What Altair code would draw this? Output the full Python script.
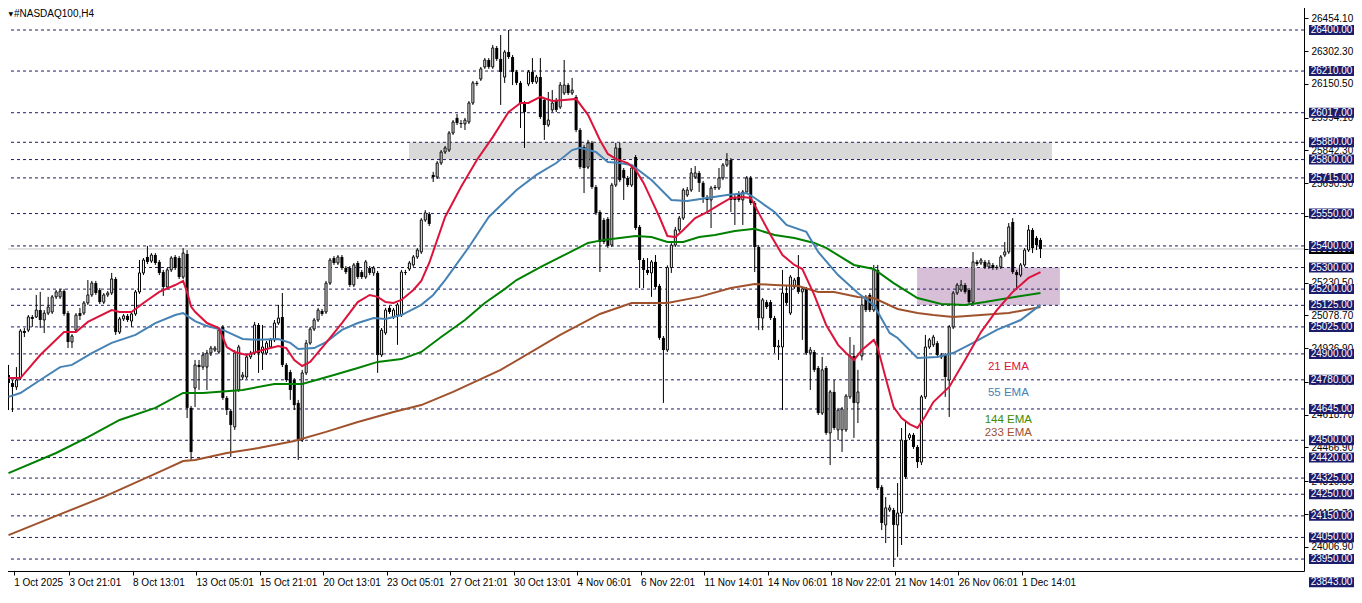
import json
import altair as alt
import pandas as pd

# ---------------- data ----------------
TITLE = "#NASDAQ100,H4"

OPEN = [24802,24765,24747,24788,25006,25010,25071,25071,25103,25057,
        25089,25094,25164,25164,25191,25089,24955,25010,25089,25089,
        25136,25173,25228,25196,25140,25173,25182,25247,25001,25062,
        25076,25052,25085,25187,25275,25349,25330,25358,25326,25279,
        25210,25289,25349,25344,25256,25363,24650,
        24742,24849,24839,24839,24904,24918,24909,25025,24696,24636,
        24562,24733,24793,24793,24886,24904,25034,24904,24904,24932,
        24965,25043,25071,24849,24816,24779,24673,24501,24812,24950,
        25015,25057,25099,25094,25228,25344,25321,25349,25298,25298,
        25219,25321,25279,25256,25298,25275,25275,24895,24997,25113,
        25071,25080,25080,25279,25293,25312,25349,25372,25520,25548,
        25729,25719,25784,25835,25844,25923,25993,25969,25965,25974,
        26062,26155,26173,26229,26261,26229,26317,26266,26182,26298,
        26275,26206,26155,26062,26150,26206,26159,26182,26076,25960,
        26030,26076,26043,26108,26145,26108,26090,25937,25858,25765,
        25877,25673,25557,25520,25525,25404,25682,25854,25752,25715,
        25682,25812,25488,25335,25289,25275,25326,25215,24974,24918,
        25300,25404,25474,25529,25636,25659,25719,25738,25692,25627,
        25613,25673,25668,25715,25775,25798,25627,25645,25613,25650,
        25715,25599,25395,25066,25140,25140,25066,24932,24932,25182,
        25089,25210,25256,25187,25201,24904,24909,24835,24626,24835,
        24534,24724,24548,24548,24548,24701,24890,24673,24890,25164,
        25173,25103,25289,24283,24108,24177,24177,24108,24163,24501,
        24511,24525,24469,24399,24701,24932,24942,24950,24886,24895,
        24779,25025,25182,25196,25219,25196,25140,25326,25321,25326,
        25303,25312,25303,25303,25358,25372,25511,25279,25265,25312,
        25381,25474,25437,25428]

HIGH = [24849,24779,24839,25015,25020,25080,25080,25173,25187,25103,
        25164,25173,25196,25201,25201,25099,24992,25089,25113,25145,
        25242,25238,25238,25205,25182,25191,25275,25256,25071,25085,
        25085,25094,25196,25335,25344,25400,25367,25367,25335,25289,
        25298,25353,25358,25353,25390,25381,24659,
        24872,24872,24909,24918,24937,24937,25020,25034,24705,24645,
        24918,24942,24816,24895,24914,25048,25043,25034,24960,24974,
        25057,25127,25182,24858,24826,24788,24687,24826,24965,25025,
        25066,25113,25108,25238,25344,25353,25358,25358,25307,25307,
        25321,25330,25289,25335,25307,25307,25284,25020,25113,25122,
        25113,25136,25289,25289,25330,25358,25390,25529,25566,25557,
        25743,25793,25844,25863,25932,25983,26011,25983,25993,26071,
        26164,26164,26229,26270,26270,26331,26326,26377,26307,26400,
        26284,26215,26164,26071,26215,26270,26192,26270,26085,26113,
        26122,26085,26159,26261,26154,26178,26099,25946,25868,25891,
        25886,25682,25566,25529,25534,25692,25877,25877,25761,25724,
        25770,25821,25497,25344,25344,25335,25358,25224,24983,25310,
        25413,25488,25539,25668,25673,25761,25770,25747,25701,25636,
        25678,25682,25761,25784,25830,25807,25636,25654,25659,25724,
        25724,25608,25404,25159,25150,25150,25076,24965,25289,25219,
        25265,25252,25358,25210,25210,24932,24918,24844,24886,24844,
        24733,24779,24650,24654,24714,24978,24942,24826,25164,25173,
        25182,25312,25312,24293,24237,24201,24187,24302,24557,24594,
        24534,24534,24478,24710,24988,24974,24988,24960,24904,24904,
        25034,25191,25228,25242,25228,25205,25372,25335,25344,25335,
        25335,25321,25312,25358,25418,25506,25529,25289,25321,25390,
        25497,25483,25446,25437]

LOW = [24640,24631,24733,24779,24978,25001,25025,25066,25020,24997,
       25080,25085,25154,25154,25076,24927,24927,25001,25057,25080,
       25127,25164,25173,25131,25131,25164,25173,24988,24992,25052,
       25048,25025,25076,25178,25265,25316,25321,25312,25265,25168,
       25201,25279,25289,25247,25247,24603,24409,
       24654,24733,24826,24733,24890,24909,24900,24687,24617,24423,
       24548,24724,24779,24784,24876,24895,24812,24826,24895,24923,
       24955,25034,24839,24770,24687,24640,24409,24492,24802,24942,
       25006,25048,25076,25085,25219,25312,25312,25289,25270,25210,
       25210,25247,25247,25247,25265,25261,24812,24886,24988,25085,
       25062,24942,25071,25265,25284,25303,25340,25363,25511,25492,
       25696,25710,25775,25826,25835,25914,25960,25946,25937,25965,
       26053,26141,26164,26220,26220,26220,26257,26053,26155,26266,
       26145,26145,25946,25854,26140,26150,26150,25988,25891,25951,
       26020,26020,26034,26099,26099,26099,25927,25756,25645,25756,
       25664,25543,25279,25409,25391,25395,25673,25696,25613,25673,
       25673,25474,25205,25205,25265,25164,25201,24965,24673,24909,
       25275,25395,25465,25520,25627,25650,25710,25650,25599,25557,
       25483,25659,25659,25705,25766,25557,25497,25604,25497,25641,
       25590,25279,25010,25010,25108,25057,24904,24872,24640,25127,
       25080,25201,25178,24965,24895,24733,24816,24617,24617,24525,
       24385,24548,24501,24446,24539,24691,24511,24580,24870,25094,
       25094,25094,24270,24084,24024,24168,23913,23960,24015,24321,
       24501,24460,24372,24385,24691,24923,24932,24886,24876,24701,
       24608,25015,25173,25187,25178,25131,25131,25307,25312,25293,
       25293,25289,25289,25293,25349,25363,25270,25196,25256,25303,
       25372,25367,25381,25344]

CLOSE = [24765,24747,24779,25006,24997,25071,25062,25103,25057,25089,
         25117,25164,25187,25191,25085,24955,24983,25080,25076,25136,
         25173,25228,25182,25140,25173,25182,25247,25001,25062,25076,
         25057,25085,25187,25275,25335,25326,25358,25321,25275,25210,
         25289,25344,25298,25256,25367,24650,24446,
         24849,24839,24895,24904,24927,24927,25010,24696,24640,24571,
         24904,24932,24802,24886,24904,25034,24904,24932,24950,24965,
         25043,25066,24849,24779,24733,24663,24501,24812,24950,25015,
         25057,25103,25085,25228,25335,25321,25349,25298,25279,25219,
         25312,25256,25256,25326,25275,25298,24895,25010,25103,25094,
         25103,25127,25279,25275,25321,25349,25381,25520,25553,25502,
         25719,25784,25835,25854,25923,25974,25969,25965,25983,26062,
         26155,26150,26220,26261,26229,26317,26266,26206,26298,26275,
         26206,26155,26062,26020,26206,26159,26182,25997,25960,25983,
         26062,26030,26145,26145,26108,26122,25937,25765,25761,25877,
         25673,25553,25418,25418,25400,25682,25854,25705,25715,25682,
         25761,25483,25335,25289,25275,25326,25210,24974,24918,25300,
         25404,25474,25529,25659,25659,25738,25738,25692,25627,25613,
         25668,25668,25715,25775,25798,25613,25613,25613,25650,25715,
         25599,25395,25066,25150,25117,25066,24932,24937,25182,25136,
         25256,25242,25187,25201,24904,24918,24826,24626,24826,24534,
         24724,24557,24640,24645,24705,24890,24673,24724,25127,25103,
         25103,25289,24279,24117,24187,24187,24108,24163,24501,24330,
         24525,24469,24399,24701,24932,24965,24978,24895,24895,24793,
         25025,25182,25219,25219,25187,25140,25326,25316,25335,25303,
         25321,25298,25298,25349,25372,25488,25279,25265,25312,25381,
         25474,25390,25404,25386]

EMA21_BAR = [0,3,8,14,17,20,26,28,31,34,38,42,44,45,46,47,50,53,55,57,60,
             64,68,70,72,74,76,80,84,88,91,93,95,97,99,102,104,106,110,114,118,
             122,126,129,131,134,137,140,143,146,149,151,153,156,158,160,162,164,
             166,168,170,173,176,179,182,185,187,189,192,195,198,200,203,206,209,
             211,213,215,218,219,221,223,225,227,229,231,233,237,241,245,249,253,257,260]
EMA21_VAL = [24788,24788,24895,25001,25001,25048,25103,25094,25094,25136,25187,25219,25238,25186,25119,25095,
             25043,25020,24932,24909,24895,24918,24937,24927,24872,24844,24863,24951,25043,25140,25173,
             25164,25140,25136,25150,25196,25238,25321,25534,25673,25798,25904,26020,26062,26062,26090,
             26071,26076,26081,26007,25891,25826,25803,25784,25752,25692,25613,25534,25446,25441,25474,
             25529,25557,25590,25622,25627,25622,25553,25451,25358,25312,25293,25173,25034,24942,24904,
             24872,24918,24965,24927,24788,24654,24603,24575,24557,24612,24677,24747,24872,25001,25103,
             25187,25252,25279]

EMA55_BAR = [0,3,8,13,16,21,26,32,37,42,44,47,50,54,59,63,68,71,73,77,80,84,88,92,95,99,
             104,107,110,116,121,128,133,138,142,144,148,151,154,157,162,167,171,176,181,186,
             188,193,196,201,204,209,214,218,222,224,229,234,238,243,249,255,260]
EMA55_VAL = [24701,24719,24779,24839,24849,24904,24951,24988,25043,25080,25089,25052,25029,25011,
             24969,24965,24969,24951,24923,24927,24955,25011,25043,25066,25062,25080,25127,25173,
             25242,25395,25534,25659,25729,25784,25844,25854,25835,25789,25784,25775,25705,25613,
             25608,25622,25636,25645,25622,25557,25497,25465,25372,25265,25182,25127,24997,24974,
             24881,24886,24904,24951,25011,25057,25127]

EMA144_BAR = [0,12,20,28,37,44,49,59,67,74,82,88,93,99,104,109,115,120,125,128,134,141,146,
              150,154,158,162,166,170,174,178,183,188,193,198,203,206,213,218,223,229,235,241,
              246,252,260]
EMA144_VAL = [24348,24441,24515,24594,24650,24719,24719,24733,24761,24761,24802,24835,24863,
              24876,24909,24978,25057,25136,25200,25242,25302,25367,25414,25428,25437,25446,
              25441,25418,25418,25441,25451,25469,25479,25451,25437,25414,25391,25312,25293,
              25228,25159,25131,25127,25140,25159,25182]

EMA233_BAR = [0,12,24,39,44,47,55,63,72,80,88,97,104,112,124,139,149,157,166,174,182,188,193,
              199,204,208,214,218,224,229,233,238,245,252,260]
EMA233_VAL = [24061,24150,24238,24362,24404,24409,24441,24464,24497,24539,24585,24631,24663,
              24724,24826,24988,25085,25136,25136,25164,25205,25224,25219,25214,25187,25187,
              25164,25159,25108,25089,25080,25071,25080,25089,25117]

LEVELS = [26400, 26210, 26017, 25880, 25800, 25715, 25550, 25400, 25300, 25200, 25125,
          25025, 24900, 24780, 24645, 24500, 24420, 24325, 24250, 24150, 24050, 23950, 23843]
BID = 25385.97

AXIS_TICKS = [26454.10, 26302.30, 26150.50, 25994.10, 25842.30, 25690.50, 25538.70,
              25386.90, 25230.50, 25078.70, 24926.90, 24770.50, 24618.70, 24466.90,
              24310.50, 24158.70, 24006.90]

TIME_LABELS = ["1 Oct 2025", "3 Oct 21:01", "8 Oct 13:01", "13 Oct 05:01", "15 Oct 21:01",
               "20 Oct 13:01", "23 Oct 05:01", "27 Oct 21:01", "30 Oct 13:01", "4 Nov 06:01",
               "6 Nov 22:01", "11 Nov 14:01", "14 Nov 06:01", "18 Nov 22:01", "21 Nov 14:01",
               "26 Nov 06:01", "1 Dec 14:01"]
TIME_TICK_BARS = [1.3, 15.25, 31.25, 47.25, 63.25, 79.25, 95.25, 111.25, 127.25, 143.25,
                  159.25, 175.25, 191.25, 207.25, 223.25, 239.25, 255.25]

ZONE_START = [100.9, 228.9]
ZONE_END = [262.9, 264.9]
ZONE_LOW = [25800, 25125]
ZONE_HIGH = [25880, 25300]
ZONE_FILL = ["#d9d9d9", "#d8bfd8"]

EMA_LABEL_TEXT = ["21 EMA", "55 EMA", "144 EMA", "233 EMA"]
EMA_LABEL_BAR = [251.9, 251.9, 251.9, 251.9]
EMA_LABEL_PRICE = [24839, 24719, 24594, 24534]
EMA_COLORS = ["#dc143c", "#4682b4", "#008000", "#a0522d"]
EMA_TEXT_COLORS = ["#dc143c", "#4682b4", "#3c8c00", "#a0522d"]

# ---------------- layout / style ----------------
W, H = 1302, 569
Y_MIN, Y_MAX = 23894.6, 26529.7
NAVY = "#1c1c6c"
FONT = "Liberation Sans"
xs = alt.Scale(domain=[-0.375, 325.125], nice=False, zero=False)
ys = alt.Scale(domain=[Y_MIN, Y_MAX], nice=False, zero=False)
BOX_PATH = "M-1,-0.2222L1,-0.2222L1,0.2222L-1,0.2222Z"
LABEL_X = 1329.5

candles = pd.DataFrame({"bar": list(range(len(OPEN))), "open": OPEN, "high": HIGH,
                        "low": LOW, "close": CLOSE})
candles["up"] = candles["close"] >= candles["open"]
ups = candles[candles["up"]]
downs = candles[~candles["up"]]

levels_df = pd.DataFrame({"price": LEVELS, "label": [f"{v:.2f}" for v in LEVELS]})
bid_df = pd.DataFrame({"price": [BID], "label": [f"{BID:.2f}"]})
zones_df = pd.DataFrame({"start": ZONE_START, "end": ZONE_END, "low": ZONE_LOW,
                         "high": ZONE_HIGH, "fill": ZONE_FILL})
ema_lbl_df = pd.DataFrame({"bar": EMA_LABEL_BAR, "price": EMA_LABEL_PRICE,
                           "text": EMA_LABEL_TEXT, "col": EMA_TEXT_COLORS})
title_df = pd.DataFrame({"t": [TITLE]})

label_expr = f"{json.dumps(TIME_LABELS)}[indexof({json.dumps(TIME_TICK_BARS)}, datum.value)]"

x_axis = alt.Axis(orient="bottom", values=TIME_TICK_BARS, labelExpr=label_expr, title=None,
                  grid=False, domainColor="black", domainWidth=1, tickColor="black",
                  tickSize=4, tickWidth=1, labelFont=FONT, labelFontSize=10,
                  labelColor="black", labelAlign="left", labelBaseline="top",
                  labelPadding=2, labelOffset=0, labelOverlap=False, labelFlush=False,
                  labelBound=False)
y_axis_right = alt.Axis(orient="right", values=AXIS_TICKS, format=".2f", title=None,
                        grid=False, domainColor="black", domainWidth=1, tickColor="black",
                        tickSize=4, tickWidth=1, labelFont=FONT, labelFontSize=10,
                        labelColor="black", labelPadding=3, labelAlign="left",
                        labelBaseline="middle", labelOverlap=False, labelBound=False,
                        labelFlush=False)

zones = alt.Chart(zones_df).mark_rect().encode(
    x=alt.X("start:Q", scale=xs, axis=None), x2="end:Q",
    y=alt.Y("low:Q", scale=ys, axis=None), y2="high:Q",
    color=alt.Color("fill:N", scale=None))

level_rules = alt.Chart(levels_df).transform_filter(
    alt.datum.price >= Y_MIN
).mark_rule(color=NAVY, strokeWidth=1, strokeDash=[3, 3]).encode(
    y=alt.Y("price:Q", scale=ys, axis=None))

bid_rule = alt.Chart(bid_df).mark_rule(color="#c0c0c0", strokeWidth=1).encode(
    y=alt.Y("price:Q", scale=ys, axis=None))

wicks = alt.Chart(candles).mark_rule(color="black", strokeWidth=1).encode(
    x=alt.X("bar:Q", scale=xs, axis=x_axis),
    y=alt.Y("low:Q", scale=ys, axis=y_axis_right), y2="high:Q")

down_bodies = alt.Chart(downs).mark_bar(size=3, color="black").encode(
    x=alt.X("bar:Q", scale=xs, axis=None),
    y=alt.Y("open:Q", scale=ys, axis=None), y2="close:Q")

up_bodies = alt.Chart(ups).mark_bar(size=2, fill="white", stroke="black", strokeWidth=1).encode(
    x=alt.X("bar:Q", scale=xs, axis=None),
    y=alt.Y("open:Q", scale=ys, axis=None), y2="close:Q")


def ema_line(bars, vals, color):
    df = pd.DataFrame({"bar": bars, "value": vals})
    return alt.Chart(df).mark_line(color=color, strokeWidth=2).encode(
        x=alt.X("bar:Q", scale=xs, axis=None),
        y=alt.Y("value:Q", scale=ys, axis=None))


ema233 = ema_line(EMA233_BAR, EMA233_VAL, EMA_COLORS[3])
ema144 = ema_line(EMA144_BAR, EMA144_VAL, EMA_COLORS[2])
ema55 = ema_line(EMA55_BAR, EMA55_VAL, EMA_COLORS[1])
ema21 = ema_line(EMA21_BAR, EMA21_VAL, EMA_COLORS[0])

ema_labels = alt.Chart(ema_lbl_df).mark_text(font=FONT, fontSize=11.5, align="center",
                                             baseline="middle").encode(
    x=alt.X("bar:Q", scale=xs, axis=None),
    y=alt.Y("price:Q", scale=ys, axis=None),
    text="text:N", color=alt.Color("col:N", scale=None))

title_tri = alt.Chart(title_df).mark_text(text="\u25bc", font="DejaVu Sans", fontSize=6,
                                          align="left", baseline="middle", color="black").encode(
    x=alt.value(6.5), y=alt.value(12))
title_txt = alt.Chart(title_df).mark_text(font=FONT, fontSize=10, align="left",
                                          baseline="top", color="black").encode(
    x=alt.value(12), y=alt.value(6.5), text="t:N")

bid_box = alt.Chart(bid_df).mark_point(shape=BOX_PATH, size=45 * 45, filled=True,
                                       color="black", opacity=1).encode(
    x=alt.value(LABEL_X), y=alt.Y("price:Q", scale=ys, axis=None))
bid_txt = alt.Chart(bid_df).mark_text(font=FONT, fontSize=10, color="white", align="center",
                                      baseline="middle").encode(
    x=alt.value(LABEL_X), y=alt.Y("price:Q", scale=ys, axis=None), text="label:N")

lvl_box = alt.Chart(levels_df).mark_point(shape=BOX_PATH, size=45 * 45, filled=True,
                                          color=NAVY, opacity=1).encode(
    x=alt.value(LABEL_X), y=alt.Y("price:Q", scale=ys, axis=None))
lvl_txt = alt.Chart(levels_df).mark_text(font=FONT, fontSize=10, color="white",
                                         align="center", baseline="middle").encode(
    x=alt.value(LABEL_X), y=alt.Y("price:Q", scale=ys, axis=None), text="label:N")

chart = alt.layer(
    zones, level_rules, bid_rule, wicks, down_bodies, up_bodies,
    ema233, ema144, ema55, ema21, ema_labels, title_tri, title_txt,
    bid_box, bid_txt, lvl_box, lvl_txt
).resolve_axis(x="independent", y="independent").properties(
    width=W, height=H,
    padding={"left": -6, "top": -6, "right": 50, "bottom": 17},
    autosize=alt.AutoSizeParams(type="none"),
    background="white",
).configure_view(stroke=None)

chart.save("out.html", embed_options={"renderer": "svg", "actions": False})
